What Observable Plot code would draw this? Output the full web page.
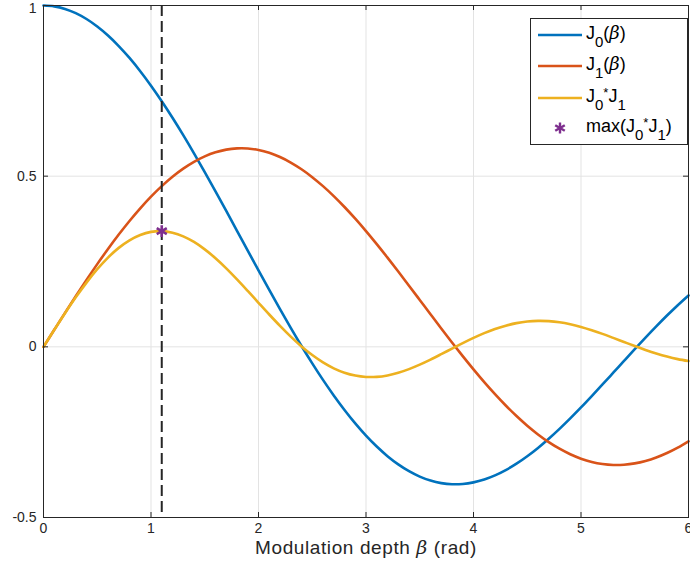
<!DOCTYPE html>
<html>
<head>
<meta charset="utf-8">
<script src="https://cdn.jsdelivr.net/npm/d3@7"></script>
<script src="https://cdn.jsdelivr.net/npm/@observablehq/plot@0.6"></script>
<style>
  html, body { margin: 0; padding: 0; background: #fff; }
  #wrap { position: relative; width: 690px; height: 571px; font-family: "Liberation Sans", Arial, Helvetica, sans-serif; }
  #legend { position: absolute; left: 530px; top: 18px; width: 158px; height: 127px; border: 1px solid #262626; background: #fff; box-sizing: border-box; }
  .entry { position: absolute; left: 0; height: 20px; width: 157px; }
  .entry svg { position: absolute; left: 6px; top: 0; }
  .entry .t { position: absolute; left: 55px; top: -1px; font-size: 18px; line-height: 18px; color: #000; white-space: nowrap; }
  .entry sub { font-size: 15px; line-height: 0; vertical-align: -8px; }
  .entry sup { font-size: 13px; line-height: 0; vertical-align: 5px; }
  .beta { font-family: "DejaVu Serif", "Liberation Serif", serif; font-style: italic; font-weight: 300; }
  #xlabel { position: absolute; left: 0; width: 690px; top: 536px; text-align: center; font-size: 19px; letter-spacing: 0.6px; color: #262626; padding-left: 42px; box-sizing: border-box; }
</style>
</head>
<body>
<div id="wrap">
  <div id="chart"></div>
  <div id="legend">
    <div class="entry" style="top:6px"><svg width="48" height="20"><line x1="1" x2="45" y1="10" y2="10" stroke="#0072BD" stroke-width="2.5"/></svg><span class="t">J<sub>0</sub>(<span class="beta">β</span>)</span></div>
    <div class="entry" style="top:37px"><svg width="48" height="20"><line x1="1" x2="45" y1="10" y2="10" stroke="#D95319" stroke-width="2.5"/></svg><span class="t">J<sub>1</sub>(<span class="beta">β</span>)</span></div>
    <div class="entry" style="top:69px"><svg width="48" height="20"><line x1="1" x2="45" y1="10" y2="10" stroke="#EDB120" stroke-width="2.5"/></svg><span class="t">J<sub>0</sub><sup>*</sup>J<sub>1</sub></span></div>
    <div class="entry" style="top:99px"><svg width="48" height="20"><g stroke="#7E2F8E" stroke-width="2.4"><line x1="23" x2="23" y1="4.5" y2="15.5"/><line x1="18.2" x2="27.8" y1="7.2" y2="12.8"/><line x1="18.2" x2="27.8" y1="12.8" y2="7.2"/></g></svg><span class="t">max(J<sub>0</sub><sup>*</sup>J<sub>1</sub>)</span></div>
  </div>
  <div id="xlabel">Modulation depth <span class="beta">β</span> (rad)</div>
</div>
<script>
const beta = [0,0.1,0.2,0.3,0.4,0.5,0.6,0.7,0.8,0.9,1.0,1.1,1.2,1.3,1.4,1.5,1.6,1.7,1.8,1.9,2.0,2.1,2.2,2.3,2.4,2.5,2.6,2.7,2.8,2.9,3.0,3.1,3.2,3.3,3.4,3.5,3.6,3.7,3.8,3.9,4.0,4.1,4.2,4.3,4.4,4.5,4.6,4.7,4.8,4.9,5.0,5.1,5.2,5.3,5.4,5.5,5.6,5.7,5.8,5.9,6.0];
const j0 = [1.0000,0.9975,0.9900,0.9776,0.9604,0.9385,0.9120,0.8812,0.8463,0.8075,0.7652,0.7196,0.6711,0.6201,0.5669,0.5118,0.4554,0.3980,0.3400,0.2818,0.2239,0.1666,0.1104,0.0555,0.0025,-0.0484,-0.0968,-0.1424,-0.1850,-0.2243,-0.2601,-0.2921,-0.3202,-0.3443,-0.3643,-0.3801,-0.3918,-0.3992,-0.4026,-0.4018,-0.3971,-0.3887,-0.3766,-0.3610,-0.3423,-0.3205,-0.2961,-0.2693,-0.2404,-0.2097,-0.1776,-0.1443,-0.1103,-0.0758,-0.0412,-0.0068,0.0270,0.0599,0.0917,0.1220,0.1506];
const j1 = [0,0.0499,0.0995,0.1483,0.1960,0.2423,0.2867,0.3290,0.3688,0.4059,0.4401,0.4709,0.4983,0.5220,0.5419,0.5579,0.5699,0.5778,0.5815,0.5812,0.5767,0.5683,0.5560,0.5399,0.5202,0.4971,0.4708,0.4416,0.4097,0.3754,0.3391,0.3009,0.2613,0.2207,0.1792,0.1374,0.0955,0.0538,0.0128,-0.0272,-0.0660,-0.1033,-0.1386,-0.1719,-0.2028,-0.2311,-0.2566,-0.2791,-0.2985,-0.3147,-0.3276,-0.3371,-0.3432,-0.3460,-0.3453,-0.3414,-0.3343,-0.3241,-0.3110,-0.2951,-0.2767];
const j0j1 = [0,0.0498,0.0985,0.1450,0.1882,0.2274,0.2615,0.2899,0.3121,0.3278,0.3368,0.3389,0.3344,0.3237,0.3072,0.2855,0.2595,0.2300,0.1977,0.1638,0.1291,0.0947,0.0614,0.0300,0.0013,-0.0241,-0.0456,-0.0629,-0.0758,-0.0842,-0.0882,-0.0879,-0.0837,-0.0760,-0.0653,-0.0522,-0.0374,-0.0215,-0.0052,0.0109,0.0262,0.0402,0.0522,0.0621,0.0694,0.0741,0.0760,0.0752,0.0718,0.0660,0.0582,0.0486,0.0379,0.0262,0.0142,0.0023,-0.0090,-0.0194,-0.0285,-0.0360,-0.0417];
const maxBeta = [1.1];
const maxVal = [0.3389];
const xTicks = [0,1,2,3,4,5,6];
const yTicks = [-0.5,0,0.5,1];
const xGrid = [1,2,3,4,5];
const yGrid = [0,0.5];

const rows = beta.map((b, i) => ({b, j0: j0[i], j1: j1[i], p: j0j1[i]}));
const peak = maxBeta.map((b, i) => ({b, v: maxVal[i]}));

const W = 690, H = 571, mL = 43, mR = 2, mT = 5, mB = 54;
const tx = 5 / (W - mL - mR) * 6;      // inward tick length in x units
const ty = 5 / (H - mT - mB) * 1.5;    // inward tick length in y units
const axisColor = "#262626";
const fmt = d => String(d);

const chart = Plot.plot({
  width: W, height: H,
  marginLeft: mL, marginRight: mR, marginTop: mT, marginBottom: mB,
  style: {fontFamily: "'Liberation Sans', Arial, Helvetica, sans-serif", background: "#fff", overflow: "visible"},
  x: {domain: [0, 6]},
  y: {domain: [-0.5, 1]},
  marks: [
    Plot.ruleX(xGrid, {stroke: "#e3e3e3", strokeWidth: 1}),
    Plot.ruleY(yGrid, {stroke: "#e3e3e3", strokeWidth: 1}),
    Plot.line(rows, {x: "b", y: "j0", stroke: "#0072BD", strokeWidth: 2.6, curve: "catmull-rom"}),
    Plot.line(rows, {x: "b", y: "j1", stroke: "#D95319", strokeWidth: 2.6, curve: "catmull-rom"}),
    Plot.line(rows, {x: "b", y: "p", stroke: "#EDB120", strokeWidth: 2.6, curve: "catmull-rom"}),
    Plot.ruleX(peak, {x: "b", stroke: "#262626", strokeWidth: 2, strokeDasharray: "11,5"}),
    Plot.dot(peak, {x: "b", y: "v", symbol: "asterisk", r: 5.5, stroke: "#7E2F8E", strokeWidth: 2.6}),
    Plot.frame({stroke: axisColor, strokeWidth: 1}),
    Plot.ruleX(xTicks, {y1: -0.5, y2: -0.5 + ty, stroke: axisColor}),
    Plot.ruleX(xTicks, {y1: 1 - ty, y2: 1, stroke: axisColor}),
    Plot.ruleY(yTicks, {x1: 0, x2: tx, stroke: axisColor}),
    Plot.ruleY(yTicks, {x1: 6 - tx, x2: 6, stroke: axisColor}),
    Plot.axisX(xTicks, {tickSize: 0, tickPadding: 6, fontSize: 14, label: null, tickFormat: fmt, fill: "#262626"}),
    Plot.axisY(yTicks.filter(d => d < 1), {tickSize: 0, tickPadding: 7, fontSize: 14, label: null, tickFormat: fmt, fill: "#262626"}),
    Plot.axisY(yTicks.filter(d => d >= 1), {tickSize: 0, tickPadding: 7, fontSize: 14, label: null, tickFormat: fmt, fill: "#262626", dy: 3})
  ]
});
document.getElementById("chart").appendChild(chart);
</script>
</body>
</html>
